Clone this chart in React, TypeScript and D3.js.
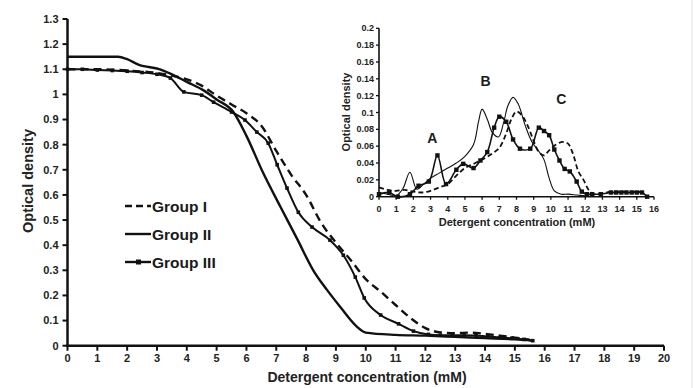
import React from "react";
import * as d3 from "d3";

type Pt = [number, number];

// Main panel: optical density vs detergent concentration (mM)
const mainGroupI: Pt[] = [
  [0, 1.1], [1, 1.1], [2, 1.095], [3, 1.085], [3.5, 1.075], [4, 1.06], [4.5, 1.035],
  [5, 0.995], [5.5, 0.96], [6, 0.925], [6.5, 0.875], [7, 0.775], [7.5, 0.68],
  [8, 0.6], [8.5, 0.49], [9, 0.41], [9.5, 0.34], [10, 0.265], [10.5, 0.215],
  [11, 0.162], [11.5, 0.11], [12, 0.07], [12.5, 0.053], [13, 0.05], [13.5, 0.052],
  [14, 0.047], [14.5, 0.04], [15, 0.032], [15.5, 0.024],
];

const mainGroupII: Pt[] = [
  [0, 1.15], [1, 1.15], [1.7, 1.15], [2.0, 1.14], [2.4, 1.117], [3.1, 1.1],
  [3.45, 1.083], [4.0, 1.05], [4.55, 1.017], [5.0, 0.98], [5.56, 0.93],
  [6.0, 0.835], [6.55, 0.69], [7.13, 0.555], [7.7, 0.425], [8.24, 0.3],
  [8.7, 0.222], [9.14, 0.155], [9.7, 0.076], [10.0, 0.052], [11.0, 0.043],
  [12, 0.04], [13, 0.035], [14, 0.03], [15, 0.025], [15.6, 0.02],
];

const mainGroupIII: Pt[] = [
  [0, 1.1], [0.5, 1.1], [1.0, 1.097], [1.5, 1.095], [2.0, 1.092], [2.5, 1.087],
  [3.0, 1.08], [3.45, 1.065], [3.9, 1.01], [4.5, 0.997], [4.9, 0.969],
  [5.5, 0.93], [5.95, 0.898], [6.35, 0.85], [6.73, 0.806], [7.03, 0.72],
  [7.36, 0.627], [7.74, 0.531], [8.2, 0.472], [8.8, 0.42], [9.25, 0.36],
  [9.65, 0.273], [9.95, 0.19], [10.5, 0.122], [11.1, 0.087], [11.6, 0.058],
  [12.1, 0.045], [12.5, 0.042], [12.9, 0.042], [13.3, 0.042], [13.7, 0.04],
  [14.1, 0.037], [14.5, 0.033], [14.9, 0.03], [15.3, 0.025], [15.6, 0.02],
];

// Inset: first-derivative style profile
const insetGroupI: Pt[] = [
  [0, 0.011], [0.5, 0.008], [1.0, 0.007], [1.5, 0.008], [2.0, 0.006], [2.5, 0.005],
  [3.0, 0.007], [3.5, 0.011], [4.0, 0.015], [4.5, 0.025], [5.0, 0.034],
  [5.5, 0.039], [6.0, 0.044], [6.5, 0.05], [7.0, 0.058], [7.4, 0.075],
  [7.7, 0.092], [8.0, 0.101], [8.3, 0.097], [8.7, 0.082], [9.0, 0.066],
  [9.3, 0.053], [9.6, 0.049], [9.9, 0.055], [10.3, 0.062], [10.7, 0.065],
  [11.0, 0.063], [11.3, 0.05], [11.6, 0.03], [11.9, 0.02], [12.2, 0.008],
  [12.5, 0.003], [13.0, 0.004], [13.5, 0.006], [14.0, 0.006], [15.0, 0.006],
  [15.5, 0.005],
];

const insetGroupII: Pt[] = [
  [0, 0.005], [0.5, 0.003], [1.0, 0.001], [1.4, 0.01], [1.8, 0.029], [2.2, 0.009],
  [2.6, 0.015], [3.0, 0.022], [3.5, 0.028], [4.0, 0.034], [4.5, 0.04],
  [5.0, 0.048], [5.5, 0.062], [5.8, 0.09], [6.0, 0.104], [6.3, 0.092],
  [6.6, 0.076], [6.95, 0.071], [7.25, 0.088], [7.5, 0.108], [7.8, 0.118],
  [8.1, 0.11], [8.5, 0.085], [8.9, 0.065], [9.3, 0.054], [9.6, 0.044],
  [9.9, 0.022], [10.2, 0.007], [10.6, 0.003], [11.0, 0.003], [11.5, 0.002],
  [12.0, 0.001],
];

const insetGroupIII: Pt[] = [
  [0, 0.003], [0.6, 0.005], [1.1, 0.0], [1.8, 0.003], [2.3, 0.013], [2.9, 0.018],
  [3.4, 0.049], [3.9, 0.015], [4.5, 0.032], [4.9, 0.039], [5.5, 0.034],
  [5.9, 0.043], [6.3, 0.053], [6.7, 0.082], [7.0, 0.095], [7.4, 0.089],
  [7.8, 0.068], [8.2, 0.057], [8.8, 0.057], [9.3, 0.082], [9.6, 0.078],
  [9.9, 0.073], [10.2, 0.056], [10.5, 0.043], [10.8, 0.033], [11.1, 0.03],
  [11.5, 0.018], [11.8, 0.006], [12.1, 0.003], [12.4, 0.003], [12.9, 0.003],
  [13.5, 0.005], [13.8, 0.005], [14.1, 0.005], [14.4, 0.005], [14.7, 0.005],
  [15.0, 0.005], [15.3, 0.005], [15.6, 0.0],
];

const legendLabels = ["Group I", "Group II", "Group III"];
const peakLabels: { text: string; x: number; y: number }[] = [
  { text: "A", x: 3.1, y: 0.07 },
  { text: "B", x: 6.2, y: 0.137 },
  { text: "C", x: 10.6, y: 0.116 },
];

const FONT = "'Liberation Sans', Arial, Helvetica, sans-serif";
const INK = "#111";

const fmt1 = (v: number) => String(+v.toFixed(1));
const fmt2 = (v: number) => String(+v.toFixed(2));

export default function App() {
  const W = 698;
  const H = 388;

  // main scales
  const x = d3.scaleLinear().domain([0, 20]).range([67.5, 664]);
  const y = d3.scaleLinear().domain([0, 1.3]).range([345.7, 19]);

  // inset scales
  const ix = d3.scaleLinear().domain([0, 16]).range([379, 654]);
  const iy = d3.scaleLinear().domain([0, 0.2]).range([196.7, 28.3]);

  const mainLine = d3
    .line<Pt>()
    .x((d) => x(d[0]))
    .y((d) => y(d[1]))
    .curve(d3.curveMonotoneX);

  const insetLine = d3
    .line<Pt>()
    .x((d) => ix(d[0]))
    .y((d) => iy(d[1]))
    .curve(d3.curveCatmullRom.alpha(0.5));

  const mainYTicks = d3.range(0, 14).map((i) => i / 10);
  const mainXTicks = d3.range(0, 21);
  const insetYTicks = d3.range(0, 11).map((i) => i / 50);
  const insetXTicks = d3.range(0, 17);

  const legendY = [206, 234, 262];

  return (
    <svg
      width={W}
      height={H}
      style={{ position: "absolute", left: 0, top: 0, background: "#fff" }}
      fontFamily={FONT}
    >
      <rect x={0} y={0} width={W} height={H} fill="#fff" />
      <line x1={692} x2={692} y1={0} y2={H} stroke="#e2e2e2" strokeWidth={1} />

      {/* ---------- main panel ---------- */}
      <g>
        {mainYTicks.map((t) => (
          <g key={"my" + t}>
            <line x1={x(0) - 5} x2={x(0)} y1={y(t)} y2={y(t)} stroke={INK} strokeWidth={2} />
            <text
              x={x(0) - 9}
              y={y(t)}
              dy="0.35em"
              textAnchor="end"
              fontSize={11}
              fontWeight="bold"
              fill="#222"
            >
              {fmt1(t)}
            </text>
          </g>
        ))}
        {mainXTicks.map((t) => (
          <g key={"mx" + t}>
            <line x1={x(t)} x2={x(t)} y1={y(0)} y2={y(0) + 5} stroke={INK} strokeWidth={2} />
            <text
              x={x(t)}
              y={362}
              textAnchor="middle"
              fontSize={11}
              fontWeight="bold"
              fill="#222"
            >
              {t}
            </text>
          </g>
        ))}
        <line x1={x(0)} x2={x(0)} y1={y(1.3)} y2={y(0) + 1.2} stroke={INK} strokeWidth={2.5} />
        <line x1={x(0) - 1.2} x2={x(20)} y1={y(0)} y2={y(0)} stroke={INK} strokeWidth={2.5} />

        <text
          x={367}
          y={382}
          textAnchor="middle"
          fontSize={14}
          fontWeight="bold"
          fill="#222"
        >
          Detergent concentration (mM)
        </text>
        <text
          transform={`translate(33, 181) rotate(-90)`}
          textAnchor="middle"
          fontSize={14.5}
          fontWeight="bold"
          fill="#222"
        >
          Optical  density
        </text>

        <path d={mainLine(mainGroupII) || ""} fill="none" stroke={INK} strokeWidth={2.4} />
        <path
          d={mainLine(mainGroupI) || ""}
          fill="none"
          stroke={INK}
          strokeWidth={2.4}
          strokeDasharray="8 5"
        />
        <path d={mainLine(mainGroupIII) || ""} fill="none" stroke={INK} strokeWidth={2} />
        {mainGroupIII.map((d, i) => (
          <rect
            key={"m3" + i}
            x={x(d[0]) - 1.8}
            y={y(d[1]) - 1.8}
            width={3.6}
            height={3.6}
            fill={INK}
          />
        ))}

        {/* legend */}
        {legendLabels.map((lab, i) => (
          <g key={lab}>
            <line
              x1={125}
              x2={151}
              y1={legendY[i]}
              y2={legendY[i]}
              stroke={INK}
              strokeWidth={2.4}
              strokeDasharray={i === 0 ? "7 4" : undefined}
            />
            {i === 2 && (
              <rect x={136} y={legendY[i] - 2.5} width={5} height={5} fill={INK} />
            )}
            <text
              x={152}
              y={legendY[i]}
              dy="0.36em"
              fontSize={15.5}
              fontWeight="bold"
              fill="#1a1a1a"
            >
              {lab}
            </text>
          </g>
        ))}
      </g>

      {/* ---------- inset panel ---------- */}
      <g>
        {insetYTicks.map((t) => (
          <g key={"iy" + t}>
            <line x1={ix(0) - 3} x2={ix(0)} y1={iy(t)} y2={iy(t)} stroke={INK} strokeWidth={1.3} />
            <text
              x={ix(0) - 5}
              y={iy(t)}
              dy="0.35em"
              textAnchor="end"
              fontSize={9}
              fontWeight="bold"
              fill="#222"
            >
              {fmt2(t)}
            </text>
          </g>
        ))}
        {insetXTicks.map((t) => (
          <g key={"ix" + t}>
            <line x1={ix(t)} x2={ix(t)} y1={iy(0)} y2={iy(0) + 3} stroke={INK} strokeWidth={1.3} />
            <text
              x={ix(t)}
              y={211.5}
              textAnchor="middle"
              fontSize={9}
              fontWeight="bold"
              fill="#222"
            >
              {t}
            </text>
          </g>
        ))}
        <line x1={ix(0)} x2={ix(0)} y1={iy(0.2)} y2={iy(0)} stroke={INK} strokeWidth={1.6} />
        <line x1={ix(0)} x2={ix(16)} y1={iy(0)} y2={iy(0)} stroke={INK} strokeWidth={1.6} />

        <text
          x={517}
          y={226}
          textAnchor="middle"
          fontSize={11}
          fontWeight="bold"
          fill="#222"
        >
          Detergent concentration (mM)
        </text>
        <text
          transform={`translate(350, 112) rotate(-90)`}
          textAnchor="middle"
          fontSize={11}
          fontWeight="bold"
          fill="#222"
        >
          Optical density
        </text>

        <path d={insetLine(insetGroupII) || ""} fill="none" stroke={INK} strokeWidth={1.1} />
        <path
          d={insetLine(insetGroupI) || ""}
          fill="none"
          stroke={INK}
          strokeWidth={1.8}
          strokeDasharray="5 3"
        />
        <path d={insetLine(insetGroupIII) || ""} fill="none" stroke={INK} strokeWidth={1.6} />
        {insetGroupIII.map((d, i) => (
          <rect
            key={"i3" + i}
            x={ix(d[0]) - 2.2}
            y={iy(d[1]) - 2.2}
            width={4.4}
            height={4.4}
            fill={INK}
          />
        ))}

        {peakLabels.map((p) => (
          <text
            key={p.text}
            x={ix(p.x)}
            y={iy(p.y)}
            dy="0.35em"
            textAnchor="middle"
            fontSize={14}
            fontWeight="bold"
            fill="#1a1a1a"
          >
            {p.text}
          </text>
        ))}
      </g>
    </svg>
  );
}
